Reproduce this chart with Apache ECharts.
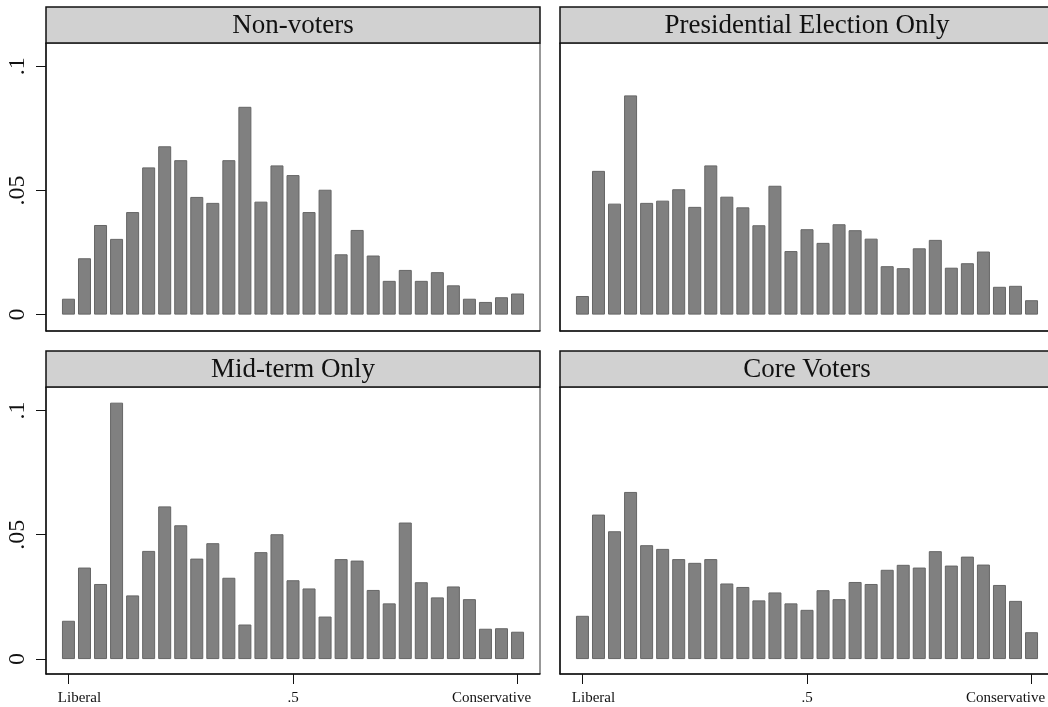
<!DOCTYPE html>
<html>
<head>
<meta charset="utf-8">
<script src="https://cdn.jsdelivr.net/npm/echarts@6/dist/echarts.min.js"></script>
<style>
  html, body { margin: 0; padding: 0; background: #ffffff; }
  #chart { width: 1048px; height: 707px; }
</style>
</head>
<body>
<div id="chart"></div>
<script>
// Ideology distribution (density) by turnout group, 29 bins from Liberal (0) to Conservative (1)
const panelTitles = ['Non-voters', 'Presidential Election Only', 'Mid-term Only', 'Core Voters'];

const nonVoters = [
  0.0064, 0.0227, 0.0361, 0.0305, 0.0413, 0.0593, 0.0678, 0.0622, 0.0474, 0.0450,
  0.0622, 0.0837, 0.0455, 0.0601, 0.0562, 0.0413, 0.0503, 0.0243, 0.0341, 0.0238,
  0.0136, 0.0180, 0.0136, 0.0171, 0.0118, 0.0064, 0.0051, 0.0070, 0.0085
];
const presidentialOnly = [
  0.0075, 0.0579, 0.0447, 0.0883, 0.0450, 0.0459, 0.0505, 0.0434, 0.0601, 0.0475,
  0.0432, 0.0360, 0.0519, 0.0256, 0.0344, 0.0289, 0.0364, 0.0340, 0.0306, 0.0195,
  0.0187, 0.0267, 0.0301, 0.0189, 0.0207, 0.0254, 0.0112, 0.0116, 0.0058
];
const midtermOnly = [
  0.0154, 0.0368, 0.0302, 0.1031, 0.0256, 0.0435, 0.0614, 0.0538, 0.0404, 0.0466,
  0.0327, 0.0139, 0.0430, 0.0502, 0.0317, 0.0284, 0.0171, 0.0402, 0.0396, 0.0278,
  0.0224, 0.0549, 0.0309, 0.0248, 0.0292, 0.0241, 0.0122, 0.0124, 0.0110
];
const coreVoters = [
  0.0174, 0.0581, 0.0514, 0.0672, 0.0458, 0.0443, 0.0402, 0.0387, 0.0402, 0.0304,
  0.0290, 0.0236, 0.0268, 0.0224, 0.0198, 0.0277, 0.0241, 0.0310, 0.0302, 0.0359,
  0.0379, 0.0368, 0.0434, 0.0376, 0.0412, 0.0380, 0.0298, 0.0234, 0.0108
];

const xTickValues = [0, 0.5, 1];
const xTickLabels = ['Liberal', '.5', 'Conservative'];
const yTickValues = [0, 0.05, 0.1];
const yTickLabels = ['0', '.05', '.1'];

// bin midpoints spread evenly over the 0..1 scale
const binCenters = nonVoters.map((_, i) => i / (nonVoters.length - 1));

const seriesValues = [nonVoters, presidentialOnly, midtermOnly, coreVoters];

const FONT = '"Liberation Serif", "DejaVu Serif", serif';
const panelW = 494;
const headerH = 36;
const layout = [
  { left: 46,  top: 43,  height: 288, ymin: -0.0066, bottomRow: false, firstCol: true },
  { left: 560, top: 43,  height: 288, ymin: -0.0066, bottomRow: false, firstCol: false },
  { left: 46,  top: 387, height: 287, ymin: -0.0060, bottomRow: true,  firstCol: true },
  { left: 560, top: 387, height: 287, ymin: -0.0060, bottomRow: true,  firstCol: false }
];

// end labels sit slightly inward of their ticks
const xLabelStyle = ['lo', 'mid', 'hi'];
const xLabelRich = {
  lo:  { fontFamily: FONT, fontSize: 15, color: '#111', padding: [0, 0, 0, 22] },
  mid: { fontFamily: FONT, fontSize: 15, color: '#111' },
  hi:  { fontFamily: FONT, fontSize: 15, color: '#111', padding: [0, 52, 0, 0] }
};

const grid = [], xAxis = [], yAxis = [], series = [], graphic = [];

layout.forEach((p, k) => {
  grid.push({
    left: p.left, top: p.top, width: panelW, height: p.height,
    outerBoundsMode: 'none', containLabel: false,
    show: true, borderColor: '#333', borderWidth: 1, backgroundColor: '#ffffff'
  });

  xAxis.push({
    type: 'value', gridIndex: k, min: -0.05, max: 1.05,
    splitLine: { show: false },
    axisLine: { show: true, onZero: false, lineStyle: { color: '#111', width: 1.5 } },
    axisTick: {
      show: p.bottomRow, customValues: xTickValues, length: 10,
      lineStyle: { color: '#111', width: 1 }
    },
    axisLabel: {
      show: p.bottomRow, customValues: xTickValues, margin: 17,
      fontFamily: FONT, fontSize: 15, color: '#111',
      rich: xLabelRich,
      formatter: v => {
        const i = xTickValues.findIndex(t => Math.abs(t - v) < 1e-9);
        return i < 0 ? '' : '{' + xLabelStyle[i] + '|' + xTickLabels[i] + '}';
      }
    }
  });

  yAxis.push({
    type: 'value', gridIndex: k, min: p.ymin, max: 0.1094,
    splitLine: { show: false },
    axisLine: { show: true, onZero: false, lineStyle: { color: '#111', width: 1.5 } },
    axisTick: {
      show: p.firstCol, customValues: yTickValues, length: 10,
      lineStyle: { color: '#111', width: 1 }
    },
    axisLabel: {
      show: p.firstCol, customValues: yTickValues, rotate: 90, margin: 16,
      fontFamily: FONT, fontSize: 24, color: '#111',
      formatter: v => yTickLabels[yTickValues.findIndex(t => Math.abs(t - v) < 1e-9)] ?? ''
    }
  });

  series.push({
    type: 'bar', xAxisIndex: k, yAxisIndex: k,
    data: binCenters.map((x, i) => [x, seriesValues[k][i]]),
    barWidth: 13,
    itemStyle: { color: '#808080', borderColor: '#666666', borderWidth: 1 },
    silent: true, animation: false
  });

  // grey title strip above each plot region
  graphic.push({
    type: 'rect', z: 10,
    shape: { x: p.left, y: p.top - headerH, width: panelW, height: headerH },
    style: { fill: '#d1d1d1', stroke: '#111', lineWidth: 1.5 }
  });
  graphic.push({
    type: 'text', z: 11,
    x: p.left + panelW / 2, y: p.top - headerH / 2 + 1,
    style: {
      text: panelTitles[k], fill: '#111', font: '27px ' + FONT,
      align: 'center', verticalAlign: 'middle'
    }
  });
});

const chart = echarts.init(document.getElementById('chart'), null, { renderer: 'canvas' });
chart.setOption({
  backgroundColor: '#ffffff',
  animation: false,
  grid, xAxis, yAxis, series, graphic
});
</script>
</body>
</html>
